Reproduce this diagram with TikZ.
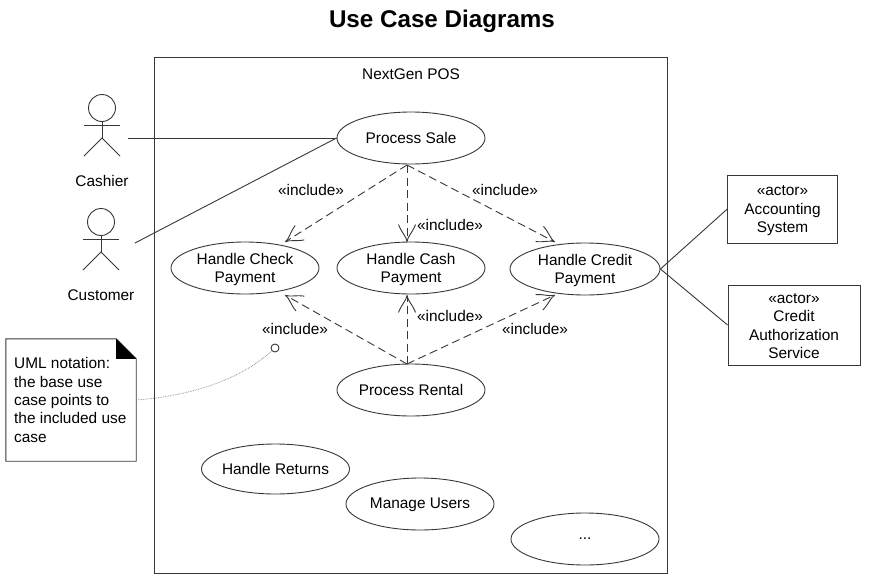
\documentclass[tikz,border=0pt]{standalone}
\usepackage{fontspec}
\setmainfont{Liberation Sans}
\usetikzlibrary{arrows.meta,shapes.geometric}
\definecolor{ln}{gray}{0.22}
\newcommand{\lowr}{\rule{0pt}{14.5pt}}
\pgfdeclarearrow{
  name=UMLOpen,
  setup code={
    \pgfarrowssettipend{0.4pt}
    \pgfarrowssetlineend{-1pt}
    \pgfarrowssetbackend{-17pt}
    \pgfarrowssetvisualbackend{-1pt}
    \pgfarrowshullpoint{0.4pt}{0pt}
    \pgfarrowshullpoint{-17pt}{8.5pt}
    \pgfarrowshullpoint{-17pt}{-8.5pt}
  },
  drawing code={
    \pgfsetdash{}{0pt}
    \pgfsetroundjoin
    \pgfsetlinewidth{0.9pt}
    \pgfpathmoveto{\pgfqpoint{-17pt}{8.5pt}}
    \pgfpathcurveto{\pgfqpoint{-9pt}{5.5pt}}{\pgfqpoint{-5pt}{0.5pt}}{\pgfqpoint{0pt}{0pt}}
    \pgfpathcurveto{\pgfqpoint{-5pt}{-0.5pt}}{\pgfqpoint{-9pt}{-5.5pt}}{\pgfqpoint{-17pt}{-8.5pt}}
    \pgfusepathqstroke
  }
}
\tikzset{
  every node/.style={font=\fontsize{15.4}{18.4}\selectfont,text=black},
  uc/.style={ellipse,draw=ln,line width=0.9pt,minimum width=148pt,minimum height=52pt,inner xsep=-6pt,inner ysep=-3pt,align=center},
  lbl/.style={inner sep=0pt,align=center},
  actorbox/.style={rectangle,draw=ln,line width=0.9pt,inner sep=0pt,align=center},
  assoc/.style={draw=ln,line width=0.9pt},
  limb/.style={draw=ln,line width=0.9pt},
  incl/.style={draw=ln,line width=0.9pt,dash pattern=on 8pt off 4.5pt,-UMLOpen},
}
\begin{document}
\begin{tikzpicture}[x=1pt,y=-1pt]
\useasboundingbox (0,0) rectangle (875,581);
\fill[white] (0,0) rectangle (875,581);
\node[lbl,font=\fontsize{24.2}{28}\selectfont\bfseries] (title) at (442,21) {Use Case Diagrams};
\node[rectangle,draw=ln,line width=0.9pt,minimum width=513pt,minimum height=516pt,inner sep=0pt] (system) at (411,315) {};
\node[lbl] (sysname) at (411,74) {NextGen POS};
% use cases
\node[uc] (sale) at (411,138) {Process Sale};
\node[uc] (check) at (245,268) {\lowr Handle Check\\Payment};
\node[uc] (cash) at (411,268) {\lowr Handle Cash\\Payment};
\node[uc,minimum width=150pt] (credit) at (585,269) {\lowr Handle Credit\\Payment};
\node[uc] (rental) at (411,390) {Process Rental};
\node[uc,minimum height=50pt] (returns) at (275.5,469) {Handle Returns};
\node[uc] (users) at (420,504) {\rule{0pt}{12.5pt}Manage Users};
\node[uc] (more) at (585,539) {...};
% actors
\node[circle,draw=ln,line width=0.9pt,minimum size=27pt,inner sep=0pt] (head1) at (102,108) {};
\coordinate (hip1) at (102,138);
\draw[limb] (head1.south) -- (hip1);
\coordinate (armL1) at (84,125); \coordinate (armR1) at (120,125);
\coordinate (footL1) at (84,156); \coordinate (footR1) at (120,156);
\draw[limb] (armL1) -- (armR1);
\draw[limb] (footL1) -- (hip1) -- (footR1);
\node[lbl] (cashier) at (102,181) {Cashier};
\node[circle,draw=ln,line width=0.9pt,minimum size=27pt,inner sep=0pt] (head2) at (101,222) {};
\coordinate (hip2) at (101,252);
\draw[limb] (head2.south) -- (hip2);
\coordinate (armL2) at (83,239); \coordinate (armR2) at (119,239);
\coordinate (footL2) at (83,270); \coordinate (footR2) at (119,270);
\draw[limb] (armL2) -- (armR2);
\draw[limb] (footL2) -- (hip2) -- (footR2);
\node[lbl] (customer) at (101,295) {Customer};
% external systems
\node[actorbox,minimum width=109.5pt,minimum height=68pt] (acct) at (782.5,209) {\rule{0pt}{13.5pt}«actor»\\Accounting\\System};
\node[actorbox,minimum width=132pt,minimum height=80pt] (auth) at (794,325) {\rule{0pt}{12pt}«actor»\\Credit\\Authorization\\Service};
% associations
\coordinate (cashierEnd) at (128,138);
\coordinate (customerEnd) at (135,243);
\draw[assoc] (cashierEnd) -- (sale.west);
\draw[assoc] (customerEnd) -- (sale.west);
\draw[assoc] (credit.east) -- (acct.west);
\draw[assoc] (credit.east) -- (auth.west);
% includes
\coordinate (saleOut) at (407,165);
\coordinate (rentalOut) at (407,364);
\draw[incl] (saleOut) -- ([shift={(40,-26)}]check.center);
\draw[incl] (saleOut) -- ([shift={(-4,-26)}]cash.center);
\draw[incl] (saleOut) -- ([shift={(-30,-27)}]credit.center);
\draw[incl] (rentalOut) -- ([shift={(40,27)}]check.center);
\draw[incl] (rentalOut) -- ([shift={(-4,27)}]cash.center);
\draw[incl] (rentalOut) -- ([shift={(-30,26)}]credit.center);
\node[lbl] (i1) at (311,190) {«include»};
\node[lbl] (i2) at (450,225) {«include»};
\node[lbl] (i3) at (505,190) {«include»};
\node[lbl] (i4) at (295,329) {«include»};
\node[lbl] (i5) at (450,316) {«include»};
\node[lbl] (i6) at (535,329) {«include»};
% note
\node[rectangle,minimum width=130pt,minimum height=122pt,inner sep=0pt] (note) at (71,400) {};
\node[anchor=west,inner sep=0pt,align=left] (notetext) at (14,400) {UML notation:\\the base use\\case points to\\the included use\\case};
\draw[draw=ln,line width=0.9pt] (note.north west) -- ([xshift=-20pt]note.north east) -- ([yshift=-20pt]note.north east) -- (note.south east) -- (note.south west) -- cycle;
\fill[black] ([xshift=-20pt]note.north east) -- ([yshift=-20pt]note.north east) -- ([xshift=-20pt,yshift=-20pt]note.north east) -- cycle;
\node[circle,draw=ln,line width=0.9pt,fill=white,minimum size=8pt,inner sep=0pt] (pin) at (275,348) {};
\draw[gray,line width=0.7pt,densely dotted] (note.east) .. controls (190,396) and (240,380) .. (pin);
\end{tikzpicture}
\end{document}
